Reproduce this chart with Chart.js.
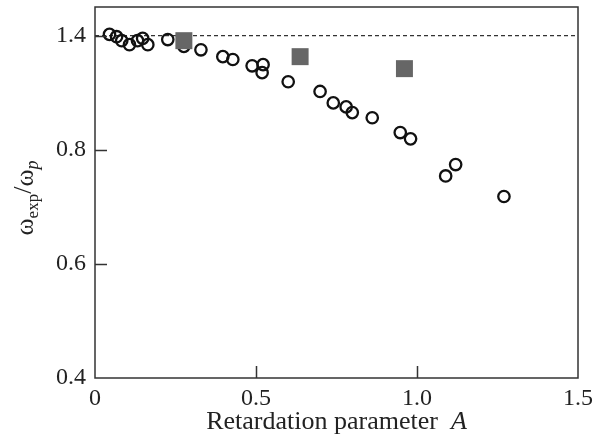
<!DOCTYPE html>
<html>
<head>
<meta charset="utf-8">
<script src="https://cdn.jsdelivr.net/npm/chart.js@4.4.1/dist/chart.umd.min.js"></script>
<style>
  html, body { margin: 0; padding: 0; background: #fff; }
  #wrap { width: 602px; height: 443px; }
</style>
</head>
<body>
<div id="wrap"><canvas id="chart"></canvas></div>
<script>
// experimental points (open circles)
const circleA = [0.045, 0.067, 0.083, 0.107, 0.132, 0.148, 0.164, 0.226, 0.276, 0.329,
                 0.397, 0.428, 0.488, 0.522, 0.519, 0.600, 0.699, 0.740, 0.780, 0.799,
                 0.861, 0.948, 0.980, 1.089, 1.120, 1.270];
const circleOmega = [1.002, 0.998, 0.991, 0.984, 0.991, 0.995, 0.984, 0.993, 0.981, 0.975,
                     0.963, 0.958, 0.947, 0.949, 0.935, 0.919, 0.902, 0.882, 0.875, 0.865,
                     0.856, 0.830, 0.819, 0.754, 0.774, 0.718];
// filled squares
const squareA = [0.276, 0.637, 0.961];
const squareOmega = [0.991, 0.963, 0.942];
// dashed reference line
const refA = [0, 1.5];
const refOmega = [1.0, 1.0];

const xTickValues = [0, 0.5, 1.0, 1.5];
const xTickLabels = ['0', '0.5', '1.0', '1.5'];
const yTickValues = [0.4, 0.6, 0.8, 1.0];
const yTickLabels = ['0.4', '0.6', '0.8', '1.4'];

const AXIS = '#333';
const TEXT = '#222';
const SERIF = '"Liberation Serif", "DejaVu Serif", serif';

function toPoints(xs, ys) {
    return xs.map((x, i) => ({ x: x, y: ys[i] }));
}

// frame, inward ticks and axis titles
const framePlugin = {
    id: 'frame',
    afterDraw(chart) {
        const ctx = chart.ctx;
        const a = chart.chartArea;
        const xs = chart.scales.x;
        const ys = chart.scales.y;
        ctx.save();
        ctx.strokeStyle = AXIS;
        ctx.lineWidth = 1.5;
        ctx.strokeRect(a.left, a.top, a.right - a.left, a.bottom - a.top);

        ctx.beginPath();
        yTickValues.slice(1).forEach(v => {
            const py = Math.round(ys.getPixelForValue(v)) + 0.5;
            ctx.moveTo(a.left, py);
            ctx.lineTo(a.left + 12, py);
        });
        xTickValues.slice(1, -1).forEach(v => {
            const px = Math.round(xs.getPixelForValue(v)) + 0.5;
            ctx.moveTo(px, a.bottom);
            ctx.lineTo(px, a.bottom - 12);
        });
        ctx.stroke();

        // x title
        ctx.fillStyle = TEXT;
        ctx.textBaseline = 'alphabetic';
        const t1 = 'Retardation parameter  ';
        const t2 = 'A';
        ctx.font = '26px ' + SERIF;
        const w1 = ctx.measureText(t1).width;
        ctx.font = 'italic 26px ' + SERIF;
        const w2 = ctx.measureText(t2).width;
        const cx = (a.left + a.right) / 2;
        let x0 = cx - (w1 + w2) / 2;
        ctx.textAlign = 'left';
        ctx.font = '26px ' + SERIF;
        ctx.fillText(t1, x0, 429);
        ctx.font = 'italic 26px ' + SERIF;
        ctx.fillText(t2, x0 + w1, 429);

        // y title, rotated, with subscripts
        const parts = [
            { t: '\u03c9', f: '26px ' + SERIF, dy: 0 },
            { t: 'exp', f: '17px ' + SERIF, dy: 5 },
            { t: '/', f: '26px ' + SERIF, dy: -2 },
            { t: '\u03c9', f: '26px ' + SERIF, dy: 0 },
            { t: 'p', f: 'italic 18px ' + SERIF, dy: 5 }
        ];
        let total = 0;
        parts.forEach(p => { ctx.font = p.f; p.w = ctx.measureText(p.t).width; total += p.w; });
        ctx.translate(33, 198);
        ctx.rotate(-Math.PI / 2);
        let px = -total / 2;
        parts.forEach(p => {
            ctx.font = p.f;
            ctx.fillText(p.t, px, p.dy);
            px += p.w;
        });
        ctx.restore();
    }
};

const ctx = document.getElementById('chart').getContext('2d');
new Chart(ctx, {
    type: 'scatter',
    data: {
        datasets: [
            {
                label: 'squares',
                data: toPoints(squareA, squareOmega),
                pointStyle: 'rect',
                pointRadius: 12,
                pointHoverRadius: 12,
                backgroundColor: '#666666',
                borderWidth: 0,
                order: 0
            },
            {
                label: 'circles',
                data: toPoints(circleA, circleOmega),
                pointStyle: 'circle',
                pointRadius: 5.7,
                pointHoverRadius: 5.7,
                backgroundColor: 'rgba(0,0,0,0)',
                borderColor: '#111',
                borderWidth: 2.3,
                order: 1
            },
            {
                type: 'line',
                label: 'reference',
                data: toPoints(refA, refOmega),
                borderColor: AXIS,
                borderWidth: 1.3,
                borderDash: [4, 3],
                pointRadius: 0,
                fill: false,
                order: 2
            }
        ]
    },
    options: {
        responsive: true,
        maintainAspectRatio: false,
        animation: false,
        layout: { autoPadding: false, padding: { top: 7, right: 24, left: 0, bottom: 0 } },
        plugins: {
            legend: { display: false },
            tooltip: { enabled: false }
        },
        scales: {
            x: {
                type: 'linear',
                min: 0,
                max: 1.5,
                afterBuildTicks: s => { s.ticks = xTickValues.map(v => ({ value: v })); },
                afterFit: s => { s.height = 65; s.paddingLeft = 0; s.paddingRight = 0; },
                grid: { display: false, drawTicks: false },
                border: { display: false },
                ticks: {
                    color: TEXT,
                    font: { family: SERIF, size: 24 },
                    padding: 6,
                    maxRotation: 0,
                    callback: (v) => xTickLabels[xTickValues.indexOf(v)]
                }
            },
            y: {
                type: 'linear',
                min: 0.4,
                max: 1.05,
                afterBuildTicks: s => { s.ticks = yTickValues.map(v => ({ value: v })); },
                afterFit: s => { s.width = 95; s.paddingTop = 0; s.paddingBottom = 0; },
                grid: { display: false, drawTicks: false },
                border: { display: false },
                ticks: {
                    color: TEXT,
                    font: { family: SERIF, size: 24 },
                    padding: 9,
                    callback: (v) => yTickLabels[yTickValues.indexOf(v)]
                }
            }
        }
    },
    plugins: [framePlugin]
});
</script>
</body>
</html>
